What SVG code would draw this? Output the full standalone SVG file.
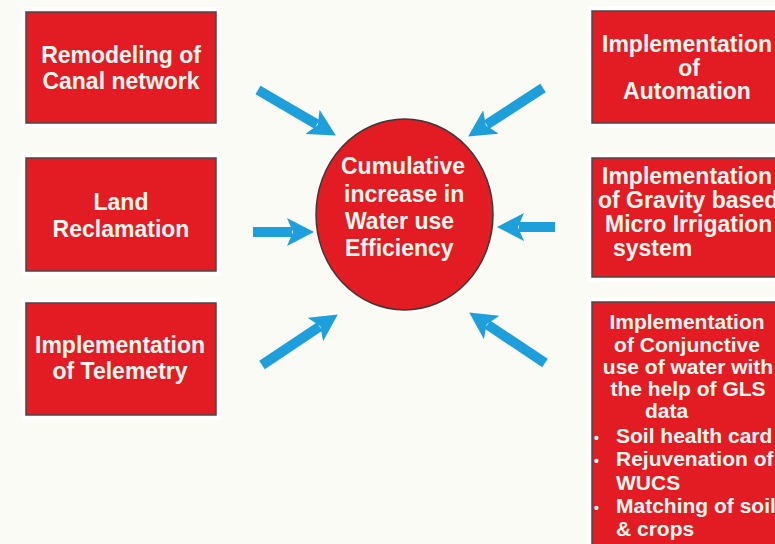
<svg xmlns="http://www.w3.org/2000/svg" width="775" height="544" viewBox="0 0 775 544">
<defs>
<style>
.box{fill:#e31b23;stroke:#4a4a4a;stroke-width:1.5}
.halo{fill:#ffffff}
.t{font-family:"Liberation Sans",Arial,sans-serif;font-weight:bold;font-size:23px;fill:#fbf7ef}
.s{font-size:21px}
.c{text-anchor:middle}
.b{font-size:14px}
.arr{stroke:#1c9fdb;stroke-width:10;fill:none;marker-end:url(#head)}
</style>
<marker id="head" markerUnits="userSpaceOnUse" viewBox="0 0 28 28" markerWidth="28" markerHeight="28" refX="5" refY="14" orient="auto">
<path d="M0,0 L27,14 L0,28 L6,14 Z" fill="#1c9fdb"/>
</marker>
</defs>
<rect x="0" y="0" width="775" height="544" fill="#fbfbf6"/>

<g id="node-remodeling">
<rect class="halo" x="21" y="7" width="200" height="121"/>
<rect class="box" x="26" y="12" width="190" height="111"/>
<text class="t c" x="121" y="63">Remodeling of</text>
<text class="t c" x="121" y="89">Canal network</text>
</g>

<g id="node-land">
<rect class="halo" x="21" y="153" width="200" height="123"/>
<rect class="box" x="26" y="158" width="190" height="113"/>
<text class="t c" x="121" y="210">Land</text>
<text class="t c" x="121" y="237">Reclamation</text>
</g>

<g id="node-telemetry">
<rect class="halo" x="21" y="298" width="200" height="122"/>
<rect class="box" x="26" y="303" width="190" height="112"/>
<text class="t c" x="120" y="353">Implementation</text>
<text class="t c" x="120" y="379">of Telemetry</text>
</g>

<g id="node-automation">
<rect class="halo" x="587" y="6" width="200" height="122"/>
<rect class="box" x="592" y="11" width="190" height="112"/>
<text class="t c" x="687" y="52">Implementation</text>
<text class="t c" x="689" y="76">of</text>
<text class="t c" x="687" y="99">Automation</text>
</g>

<g id="node-gravity">
<rect class="halo" x="587" y="153" width="200" height="129"/>
<rect class="box" x="592" y="158" width="190" height="119"/>
<text class="t c" x="687" y="184">Implementation</text>
<text class="t" x="598" y="208" font-size="22">of Gravity based</text>
<text class="t" x="605" y="232">Micro Irrigation</text>
<text class="t" x="613" y="256">system</text>
</g>

<g id="node-conjunctive">
<rect class="halo" x="587" y="297" width="200" height="260"/>
<rect class="box" x="592" y="302" width="190" height="250"/>
<text class="t s c" x="687" y="329">Implementation</text>
<text class="t s c" x="687" y="352">of Conjunctive</text>
<text class="t s c" x="688" y="374">use of water with</text>
<text class="t s c" x="688" y="396">the help of GLS</text>
<text class="t s" x="645" y="418">data</text>
<text class="t b" x="594" y="443">•</text>
<text class="t s" x="616" y="443">Soil health card</text>
<text class="t b" x="594" y="466">•</text>
<text class="t s" x="616" y="466">Rejuvenation of</text>
<text class="t s" x="616" y="490">WUCS</text>
<text class="t b" x="594" y="513">•</text>
<text class="t s" x="616" y="513">Matching of soil</text>
<text class="t s" x="616" y="536">&amp; crops</text>
</g>

<g id="node-center">
<ellipse cx="404.5" cy="214.5" rx="88.5" ry="95.5" fill="#e31b23" stroke="#3a3a3a" stroke-width="1.5"/>
<text class="t" x="341" y="174">Cumulative</text>
<text class="t" x="344" y="202">increase in</text>
<text class="t" x="345" y="229">Water use</text>
<text class="t" x="345" y="256">Efficiency</text>
</g>

<g id="connectors">
<line class="arr" x1="258" y1="90" x2="316.9" y2="124.4"/>
<line class="arr" x1="543" y1="88" x2="486.6" y2="124.6"/>
<line class="arr" x1="253" y1="232" x2="292" y2="232"/>
<line class="arr" x1="555" y1="227" x2="519" y2="227"/>
<line class="arr" x1="262" y1="365" x2="319.5" y2="326.7"/>
<line class="arr" x1="545" y1="363" x2="487.5" y2="324.7"/>
</g>
</svg>
